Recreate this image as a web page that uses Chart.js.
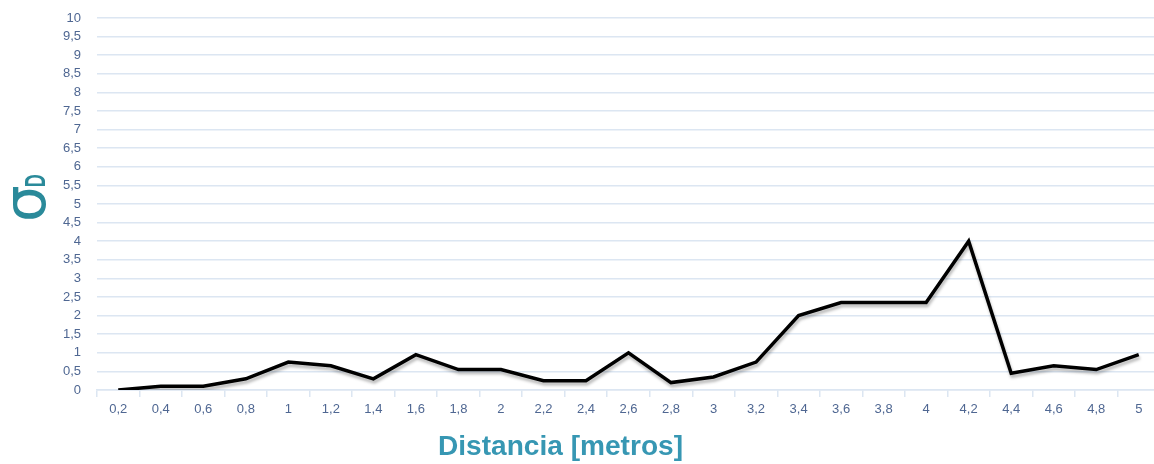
<!DOCTYPE html>
<html>
<head>
<meta charset="utf-8">
<script src="https://cdn.jsdelivr.net/npm/chart.js@4"></script>
<style>
  html, body { margin: 0; padding: 0; background: #fff; overflow: hidden; }
  #wrap { width: 1154px; height: 464px; overflow: hidden; }
</style>
</head>
<body>
<div id="wrap"><canvas id="chartSigma" width="1160" height="464"></canvas></div>
<script>
// distancia en metros
const distancias = [0.2, 0.4, 0.6, 0.8, 1, 1.2, 1.4, 1.6, 1.8, 2, 2.2, 2.4, 2.6, 2.8, 3, 3.2, 3.4, 3.6, 3.8, 4, 4.2, 4.4, 4.6, 4.8, 5];
// desviacion sigma D
const sigmaD = [0, 0.1, 0.1, 0.3, 0.75, 0.65, 0.3, 0.95, 0.55, 0.55, 0.25, 0.25, 1, 0.2, 0.35, 0.75, 2, 2.35, 2.35, 2.35, 4, 0.45, 0.65, 0.55, 0.95];
const yMin = 0, yMax = 10, yStep = 0.5;
const xTitle = "Distancia [metros]";
const yTitle = "σ";
const ySub = "D";

function coma(v) {
    return String(Math.round(v * 10) / 10).replace(".", ",");
}

const tickColor = "#4f6792";
const gridColor = "#dce6f2";
const tickFont = { family: "'Liberation Sans Narrow', 'Liberation Sans', sans-serif", size: 13 };

const shadowPlugin = {
    id: "shadow",
    beforeDatasetsDraw(chart) {
        const ctx = chart.ctx;
        ctx.save();
        ctx.shadowColor = "rgba(0,0,0,0.28)";
        ctx.shadowBlur = 3;
        ctx.shadowOffsetX = 1;
        ctx.shadowOffsetY = 3;
    },
    afterDatasetsDraw(chart) {
        chart.ctx.restore();
    }
};

const titlesPlugin = {
    id: "titles",
    afterDraw(chart) {
        const ctx = chart.ctx;
        // titulo eje x
        ctx.save();
        ctx.font = "bold 28px 'Liberation Sans', sans-serif";
        ctx.fillStyle = "#3797b3";
        ctx.textBaseline = "alphabetic";
        ctx.textAlign = "left";
        const w = ctx.measureText(xTitle).width;
        ctx.translate(438, 455);
        ctx.scale(245 / w, 1);
        ctx.fillText(xTitle, 0, 0);
        ctx.restore();

        // titulo eje y (rotado)
        ctx.save();
        ctx.fillStyle = "#2a8a9a";
        ctx.translate(45, 222);
        ctx.rotate(-Math.PI / 2);
        ctx.textBaseline = "alphabetic";
        ctx.textAlign = "left";
        ctx.font = "58px 'DejaVu Sans', sans-serif";
        const sw = ctx.measureText(yTitle).width;
        ctx.fillText(yTitle, 0, 0);
        ctx.font = "bold 30px 'Liberation Sans Narrow', 'Liberation Sans', sans-serif";
        const dw = ctx.measureText(ySub).width;
        ctx.save();
        ctx.translate(sw - 2, 0);
        ctx.scale(13 / dw, 1);
        ctx.fillText(ySub, 0, 0);
        ctx.restore();
        ctx.restore();
    }
};

new Chart(document.getElementById("chartSigma"), {
    type: "line",
    data: {
        labels: distancias.map(coma),
        datasets: [{
            label: "σD",
            data: sigmaD,
            borderColor: "#000000",
            borderWidth: 3.5,
            pointRadius: 0,
            tension: 0,
            fill: false
        }]
    },
    options: {
        responsive: false,
        animation: false,
        layout: { padding: { left: 0, right: 0, top: 18, bottom: 0 } },
        plugins: {
            legend: { display: false },
            tooltip: { enabled: false }
        },
        scales: {
            x: {
                offset: true,
                grid: {
                    offset: true,
                    drawOnChartArea: false,
                    color: gridColor,
                    tickLength: 7,
                    lineWidth: 1.5
                },
                border: { color: gridColor, width: 1.5 },
                ticks: {
                    color: tickColor,
                    font: tickFont,
                    padding: 5,
                    maxRotation: 0,
                    autoSkip: false
                },
                afterFit(scale) {
                    scale.height = 74;
                    scale.paddingLeft = 0;
                    scale.paddingRight = 0;
                }
            },
            y: {
                min: yMin,
                max: yMax,
                grid: { color: gridColor, lineWidth: 1.5, drawTicks: false },
                border: { display: false },
                ticks: {
                    stepSize: yStep,
                    color: tickColor,
                    font: tickFont,
                    padding: 16,
                    callback: v => coma(v)
                },
                afterFit(scale) {
                    scale.width = 97;
                    scale.paddingTop = 0;
                    scale.paddingBottom = 0;
                }
            }
        }
    },
    plugins: [shadowPlugin, titlesPlugin]
});
</script>
</body>
</html>
